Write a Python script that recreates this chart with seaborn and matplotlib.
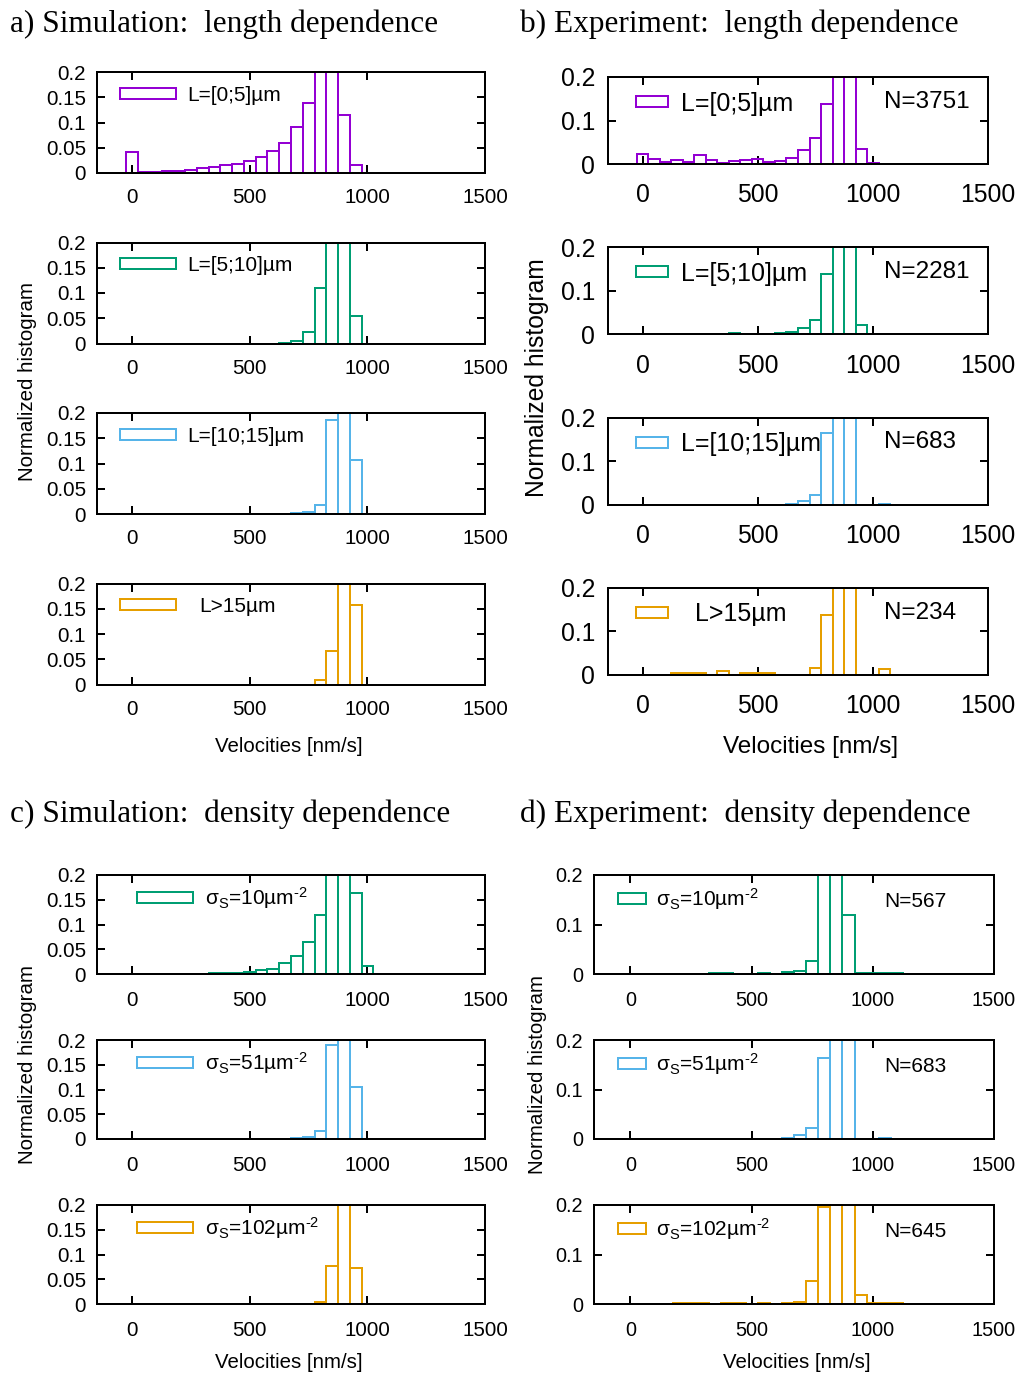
import numpy as np
import pandas as pd
import matplotlib
matplotlib.use("Agg")
import matplotlib.pyplot as plt
from matplotlib.patches import Patch
import seaborn as sns

BIN_WIDTH = 50  # nm/s, bins centred on multiples of 50

# ---------------- a) Simulation: length dependence ----------------
sim_L0_v = [0, 50, 100, 150, 200, 250, 300, 350, 400, 450, 500, 550, 600, 650, 700, 750, 800, 850, 900, 950, 1000]
sim_L0_h = [0.041, 0.002, 0.002, 0.003, 0.004, 0.006, 0.009, 0.012, 0.015, 0.018, 0.023, 0.032, 0.043, 0.060,
            0.091, 0.139, 0.26, 0.26, 0.115, 0.015, 0.0]
sim_L5_v = [550, 600, 650, 700, 750, 800, 850, 900, 950, 1000, 1050]
sim_L5_h = [0.0, 0.0, 0.001, 0.005, 0.023, 0.109, 0.27, 0.25, 0.054, 0.0, 0.0]
sim_L10_v = [650, 700, 750, 800, 850, 900, 950, 1000]
sim_L10_h = [0.0, 0.002, 0.004, 0.017, 0.187, 0.30, 0.107, 0.0]
sim_L15_v = [700, 750, 800, 850, 900, 950, 1000]
sim_L15_h = [0.0, 0.0, 0.008, 0.066, 0.30, 0.158, 0.0]

# ---------------- b) Experiment: length dependence ----------------
exp_L0_v = [0, 50, 100, 150, 200, 250, 300, 350, 400, 450, 500, 550, 600, 650, 700, 750, 800, 850, 900, 950, 1000]
exp_L0_h = [0.022, 0.011, 0.004, 0.009, 0.005, 0.021, 0.009, 0.003, 0.008, 0.009, 0.011, 0.005, 0.007, 0.013,
            0.032, 0.059, 0.137, 0.26, 0.25, 0.034, 0.003]
exp_L5_v = [0, 50, 100, 150, 200, 250, 300, 350, 400, 450, 500, 550, 600, 650, 700, 750, 800, 850, 900, 950,
            1000, 1050, 1100]
exp_L5_h = [0.001, 0.0, 0.001, 0.001, 0.0, 0.001, 0.001, 0.0, 0.002, 0.0, 0.001, 0.001, 0.002, 0.005, 0.015,
            0.032, 0.138, 0.27, 0.26, 0.021, 0.001, 0.0, 0.001]
exp_L10_v = [650, 700, 750, 800, 850, 900, 950, 1000, 1050]
exp_L10_h = [0.002, 0.009, 0.022, 0.164, 0.30, 0.28, 0.0, 0.0, 0.002]
exp_L15_v = [150, 200, 250, 350, 450, 500, 550, 750, 800, 850, 900, 950, 1000, 1050]
exp_L15_h = [0.004, 0.004, 0.004, 0.009, 0.004, 0.004, 0.004, 0.017, 0.137, 0.30, 0.28, 0.0, 0.0, 0.013]

# ---------------- c) Simulation: density dependence ----------------
sim_s10_v = [50, 100, 150, 200, 250, 300, 350, 400, 450, 500, 550, 600, 650, 700, 750, 800, 850, 900, 950,
             1000, 1050, 1100]
sim_s10_h = [0.0005, 0.0005, 0.0005, 0.0005, 0.0005, 0.001, 0.002, 0.002, 0.003, 0.005, 0.008, 0.010, 0.022,
             0.037, 0.064, 0.119, 0.28, 0.27, 0.163, 0.017, 0.0, 0.0]
sim_s51_v = [650, 700, 750, 800, 850, 900, 950, 1000]
sim_s51_h = [0.0, 0.002, 0.004, 0.017, 0.19, 0.30, 0.105, 0.0]
sim_s102_v = [650, 700, 750, 800, 850, 900, 950, 1000]
sim_s102_h = [0.0, 0.001, 0.001, 0.005, 0.076, 0.30, 0.073, 0.0]

# ---------------- d) Experiment: density dependence ----------------
exp_s10_v = [350, 400, 550, 650, 700, 750, 800, 850, 900, 950, 1000, 1050, 1100]
exp_s10_h = [0.002, 0.002, 0.002, 0.005, 0.007, 0.027, 0.199, 0.28, 0.119, 0.002, 0.002, 0.002, 0.002]
exp_s51_v = [650, 700, 750, 800, 850, 900, 950, 1000, 1050]
exp_s51_h = [0.002, 0.009, 0.022, 0.164, 0.30, 0.28, 0.0, 0.0, 0.002]
exp_s102_v = [200, 250, 300, 400, 450, 550, 650, 700, 750, 800, 850, 900, 950, 1000, 1050, 1100]
exp_s102_h = [0.0015, 0.0015, 0.0015, 0.0015, 0.0015, 0.0015, 0.0015, 0.005, 0.047, 0.195, 0.30, 0.28, 0.019,
              0.0015, 0.0015, 0.003]

len_labels = ["L=[0;5]µm", "L=[5;10]µm", "L=[10;15]µm", "L>15µm"]
dens_labels = [r"σ$_\mathregular{S}$=10µm$^\text{-2}$",
               r"σ$_\mathregular{S}$=51µm$^\text{-2}$",
               r"σ$_\mathregular{S}$=102µm$^\text{-2}$"]
exp_len_N = ["N=3751", "N=2281", "N=683", "N=234"]
exp_dens_N = ["N=567", "N=683", "N=645"]
x_ticks = [0, 500, 1000, 1500]

COLORS = ["#9400D3", "#009E73", "#56B4E9", "#E69F00"]

# ---------------- styling ----------------
FW, FH = 1022, 1376
PX = 0.72  # points per pixel at 100 dpi

sns.set_theme(style="white")
plt.rcParams.update({
    "font.family": ["Liberation Sans", "DejaVu Sans"],
    "mathtext.fontset": "custom",
    "mathtext.rm": "Liberation Sans",
    "mathtext.it": "Liberation Sans:italic",
    "mathtext.bf": "Liberation Sans:bold",
    "mathtext.default": "regular",
    "axes.linewidth": 2 * PX,
    "axes.edgecolor": "black",
    "text.color": "black",
    "xtick.color": "black",
    "ytick.color": "black",
})

fig = plt.figure(figsize=(FW / 100, FH / 100), dpi=100)


def add_ax(left, top, right, bottom):
    return fig.add_axes([left / FW, 1 - bottom / FH, (right - left) / FW, (bottom - top) / FH])


def draw_hist(ax, v, h, color):
    df = pd.DataFrame({"velocity": np.asarray(v, dtype=float), "freq": np.asarray(h, dtype=float)})
    lo = df["velocity"].min() - BIN_WIDTH / 2
    hi = df["velocity"].max() + BIN_WIDTH / 2
    sns.histplot(data=df, x="velocity", weights="freq", binwidth=BIN_WIDTH, binrange=(lo, hi),
                 element="bars", fill=False, color=color, linewidth=2 * PX, ax=ax, legend=False)
    present = set(int(round(c)) for c in df["velocity"])
    for p in ax.patches:
        c = int(round(p.get_x() + p.get_width() / 2))
        if c not in present:
            p.set_visible(False)


def style_axes(ax, st):
    ax.set_xlim(-150, st["xmax"])
    ax.set_ylim(0, 0.2)
    ax.set_xticks(x_ticks)
    ax.set_xticklabels([str(t) for t in x_ticks])
    ax.set_yticks(st["yticks"])
    ax.set_yticklabels(st["ylabels"])
    ax.tick_params(axis="both", which="major", direction="in", length=8 * PX, width=2 * PX,
                   top=True, right=True, bottom=True, left=True, labelsize=st["tick_fs"],
                   labelcolor="black", color="black")
    ax.tick_params(axis="x", pad=st["xpad"])
    ax.tick_params(axis="y", pad=st["ypad"])
    ax.set_xlabel("")
    ax.set_ylabel("")
    ax.grid(False)
    for s in ax.spines.values():
        s.set_visible(True)
        s.set_linewidth(2 * PX)
        s.set_color("black")


def add_key(ax, box, label, color, st, gap):
    left, top, right, bottom = box
    W, H = right - left, bottom - top
    fs_px = st["leg_fs"] / PX
    hh = (st["box_h"] / fs_px - 0.245) / 0.65
    handle = Patch(facecolor="none", edgecolor=color, linewidth=2 * PX)
    fx = (st["box_x"] - left) / W
    fy = (H - (st["key_dy"] + 0.1 * fs_px)) / H
    ax.legend([handle], [label], loc="center left", bbox_to_anchor=(fx, fy), frameon=False,
              borderpad=0, borderaxespad=0, handlelength=st["box_w"] / fs_px, handleheight=hh,
              handletextpad=gap / fs_px, fontsize=st["leg_fs"])


def add_n(ax, box, text, st):
    left, top, right, bottom = box
    W, H = right - left, bottom - top
    fs_px = st["n_fs"] / PX
    ax.text((st["n_x"] - left) / W, (H - (st["n_dy"] + 0.358 * fs_px)) / H, text,
            transform=ax.transAxes, fontsize=st["n_fs"], ha="left", va="baseline")


y5 = [0, 0.05, 0.1, 0.15, 0.2]
y5l = ["0", "0.05", "0.1", "0.15", "0.2"]
y3 = [0, 0.1, 0.2]
y3l = ["0", "0.1", "0.2"]

st_a = dict(xmax=1500, tick_fs=14.8, xpad=11.0, ypad=8.0, yticks=y5, ylabels=y5l, leg_fs=15,
            box_x=120, box_w=56, box_h=11, key_dy=21)
st_b = dict(xmax=1500, tick_fs=17.8, xpad=14.0, ypad=9.4, yticks=y3, ylabels=y3l, leg_fs=18,
            box_x=636, box_w=32, box_h=11, key_dy=24, n_fs=17.5, n_x=884, n_dy=22)
st_c = dict(xmax=1500, tick_fs=14.8, xpad=12.5, ypad=8.0, yticks=y5, ylabels=y5l, leg_fs=15,
            box_x=137, box_w=56, box_h=11, key_dy=21)
st_d = dict(xmax=1500, tick_fs=14.3, xpad=12.5, ypad=8.0, yticks=y3, ylabels=y3l, leg_fs=15,
            box_x=618, box_w=28, box_h=11, key_dy=22, n_fs=15, n_x=884, n_dy=25)

# ---------------- panel a ----------------
a_data = [(sim_L0_v, sim_L0_h), (sim_L5_v, sim_L5_h), (sim_L10_v, sim_L10_h), (sim_L15_v, sim_L15_h)]
a_gaps = [11, 11, 11, 23]
for i, (v, h) in enumerate(a_data):
    top = 72 + 170.5 * i
    box = (97, top, 485, top + 101)
    ax = add_ax(*box)
    draw_hist(ax, v, h, COLORS[i])
    style_axes(ax, st_a)
    add_key(ax, box, len_labels[i], COLORS[i], st_a, a_gaps[i])

# ---------------- panel b ----------------
b_data = [(exp_L0_v, exp_L0_h), (exp_L5_v, exp_L5_h), (exp_L10_v, exp_L10_h), (exp_L15_v, exp_L15_h)]
b_gaps = [13, 13, 13, 27]
for i, (v, h) in enumerate(b_data):
    top = 77 + 170.3 * i
    box = (608, top, 988, top + 87)
    ax = add_ax(*box)
    draw_hist(ax, v, h, COLORS[i])
    style_axes(ax, st_b)
    add_key(ax, box, len_labels[i], COLORS[i], st_b, b_gaps[i])
    add_n(ax, box, exp_len_N[i], st_b)

# ---------------- panel c ----------------
c_data = [(sim_s10_v, sim_s10_h), (sim_s51_v, sim_s51_h), (sim_s102_v, sim_s102_h)]
for i, (v, h) in enumerate(c_data):
    top = 875 + 165 * i
    box = (97, top, 485, top + 99)
    ax = add_ax(*box)
    draw_hist(ax, v, h, COLORS[i + 1])
    style_axes(ax, st_c)
    add_key(ax, box, dens_labels[i], COLORS[i + 1], st_c, 12)

# ---------------- panel d ----------------
d_data = [(exp_s10_v, exp_s10_h), (exp_s51_v, exp_s51_h), (exp_s102_v, exp_s102_h)]
for i, (v, h) in enumerate(d_data):
    top = 875 + 165 * i
    box = (594, top, 994, top + 99)
    ax = add_ax(*box)
    draw_hist(ax, v, h, COLORS[i + 1])
    style_axes(ax, st_d)
    add_key(ax, box, dens_labels[i], COLORS[i + 1], st_d, 10)
    add_n(ax, box, exp_dens_N[i], st_d)

# ---------------- titles and axis labels ----------------
serif = ["Liberation Serif", "DejaVu Serif"]
TFS = 22.5
fig.text(10 / FW, 1 - 32 / FH, "a) Simulation:  length dependence", family=serif, fontsize=TFS, va="baseline")
fig.text(520 / FW, 1 - 32 / FH, "b) Experiment:  length dependence", family=serif, fontsize=TFS, va="baseline")
fig.text(10 / FW, 1 - 822 / FH, "c) Simulation:  density dependence", family=serif, fontsize=TFS, va="baseline")
fig.text(520 / FW, 1 - 822 / FH, "d) Experiment:  density dependence", family=serif, fontsize=TFS, va="baseline")

fig.text(28 / FW, 1 - 382 / FH, "Normalized histogram", rotation=90, ha="center", va="center", fontsize=14.8)
fig.text(537 / FW, 1 - 378 / FH, "Normalized histogram", rotation=90, ha="center", va="center", fontsize=17.7)
fig.text(28 / FW, 1 - 1065 / FH, "Normalized histogram", rotation=90, ha="center", va="center", fontsize=14.8)
fig.text(537 / FW, 1 - 1075 / FH, "Normalized histogram", rotation=90, ha="center", va="center", fontsize=14.8)

fig.text(289 / FW, 1 - 746 / FH, "Velocities [nm/s]", ha="center", va="center", fontsize=14.7)
fig.text(811 / FW, 1 - 747 / FH, "Velocities [nm/s]", ha="center", va="center", fontsize=17.5)
fig.text(289 / FW, 1 - 1363 / FH, "Velocities [nm/s]", ha="center", va="center", fontsize=14.7)
fig.text(797 / FW, 1 - 1363 / FH, "Velocities [nm/s]", ha="center", va="center", fontsize=14.7)

fig.savefig("out.png", dpi=100, facecolor="white")
